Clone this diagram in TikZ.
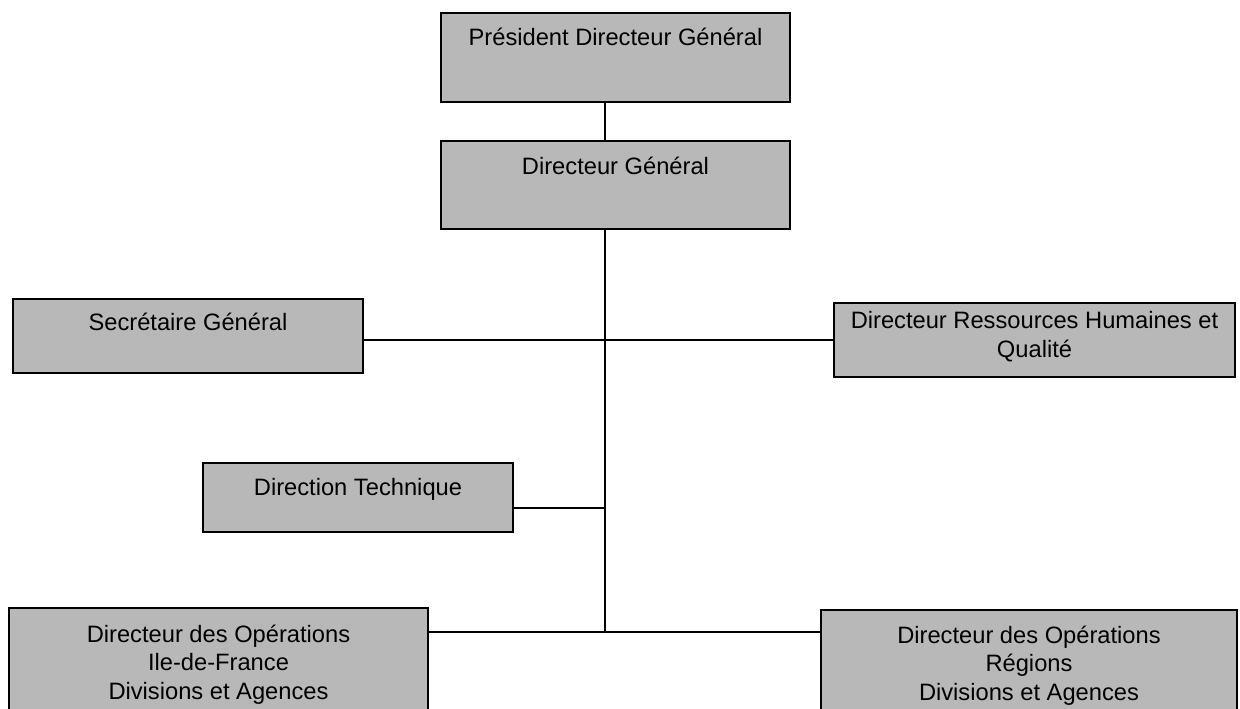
\documentclass[tikz,border=0pt]{standalone}
\usepackage{fontspec}
\setmainfont{Liberation Sans}
\begin{document}
\begin{tikzpicture}[x=1pt,y=-1pt,
  box/.style={draw=black, line width=1.8pt, fill=black!28, inner sep=0pt, outer sep=0pt, anchor=north west},
  lbl/.style={inner sep=0pt, anchor=base, align=center, font={\fontsize{23.7}{28.5}\selectfont}},
  conn/.style={draw=black, line width=1.8pt}]
\useasboundingbox (0,0) rectangle (1240,709);
% boxes
\node[box, minimum width=349pt, minimum height=89pt] (pdg) at (441,13) {};
\node[box, minimum width=349pt, minimum height=88pt] (dg) at (441,141) {};
\node[box, minimum width=350pt, minimum height=74pt] (sg) at (13,299) {};
\node[box, minimum width=401pt, minimum height=74pt] (drh) at (834,303) {};
\node[box, minimum width=310pt, minimum height=69pt] (dt) at (203,463) {};
\node[box, minimum width=419pt, minimum height=104pt] (idf) at (9,608) {};
\node[box, minimum width=416pt, minimum height=102pt] (reg) at (821,610) {};
% labels (anchor = baseline of last line)
\node[lbl] (pdgT) at (615.5,46) {Président Directeur Général};
\node[lbl] (dgT) at (615.5,174) {Directeur Général};
\node[lbl] (sgT) at (188,330) {Secrétaire Général};
\node[lbl] (drhT) at (1034.5,357) {Directeur Ressources Humaines et\\Qualité};
\node[lbl] (dtT) at (358,495) {Direction Technique};
\node[lbl] (idfT) at (218.5,699) {Directeur des Opérations\\Ile-de-France\\Divisions et Agences};
\node[lbl] (regT) at (1029,700) {Directeur des Opérations\\Régions\\Divisions et Agences};
% connector coordinates
\coordinate (sp) at (605,0);
\coordinate (j1) at (605,340);
\coordinate (j2) at (605,508);
\coordinate (jb) at (605,632);
% connectors
\draw[conn] (pdg.south -| sp) -- (dg.north -| sp);
\draw[conn] (dg.south -| sp) -- (jb);
\draw[conn] (sg.east |- j1) -- (drh.west |- j1);
\draw[conn] (dt.east |- j2) -- (j2);
\draw[conn] (idf.east |- jb) -- (reg.west |- jb);
\end{tikzpicture}
\end{document}
